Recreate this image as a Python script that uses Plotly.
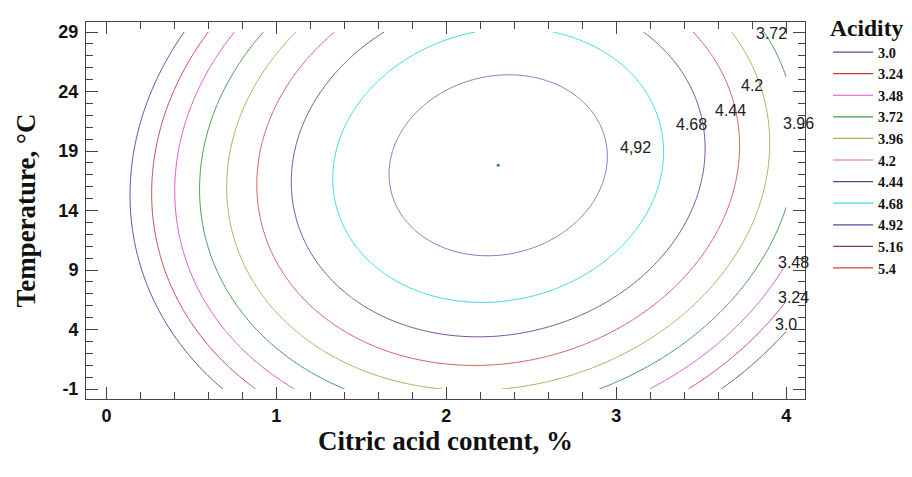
import numpy as np
import plotly.graph_objects as go

# ---------------- data ----------------
levels = [3.0, 3.24, 3.48, 3.72, 3.96, 4.2, 4.44, 4.68, 4.92, 5.16, 5.4]
level_names = ["3.0", "3.24", "3.48", "3.72", "3.96", "4.2", "4.44", "4.68", "4.92", "5.16", "5.4"]

# fitted response surface (second-order model)
z_max = 5.105          # acidity at optimum
x_opt = 2.305          # citric acid content at optimum, %
y_opt = 17.8           # temperature at optimum, °C
coef_xx = 0.453        # curvature in citric acid
coef_yy = 0.00323      # curvature in temperature
coef_xy = -0.00743     # interaction term

x_span = [0.0, 4.0]
y_span = [-1.0, 29.0]

x_ticks = [0, 1, 2, 3, 4]
y_ticks = [-1, 4, 9, 14, 19, 24, 29]

# contour labels as printed on the chart
label_texts = ["3.72", "4.2", "4.44", "4.68", "4,92", "3.96", "3.48", "3.24", "3.0"]

# ---------------- styles / positions ----------------
level_colors = ["#4b4fa8", "#c84848", "#d456d4", "#3f9a48", "#a9b15a", "#d45c5c",
                "#7d4a9e", "#3fd8dc", "#7c7cc0", "#7a4444", "#d84040"]
legend_colors = ["#4b4fa8", "#c83a3a", "#d456d4", "#3f9a48", "#a9b15a", "#d47070",
                 "#6a3a8a", "#3fd8dc", "#4a50a0", "#7a4444", "#d84040"]
label_pos = [(3.91, 28.9), (3.80, 24.5), (3.67, 22.4), (3.44, 21.2), (3.11, 19.3),
             (4.07, 21.3), (4.04, 9.6), (4.04, 6.7), (4.00, 4.4)]

serif = "Liberation Serif, Times New Roman, serif"
sans = "Liberation Sans, Arial, sans-serif"

# ---------------- grid ----------------
xs = np.linspace(x_span[0], x_span[1], 241)
ys = np.linspace(y_span[0], y_span[1], 241)
X, Y = np.meshgrid(xs, ys)
U = X - x_opt
V = Y - y_opt
Z = z_max - coef_xx * U**2 - coef_yy * V**2 - coef_xy * U * V

fig = go.Figure()

for lev, col in zip(levels, level_colors):
    fig.add_trace(go.Contour(
        x=xs, y=ys, z=Z,
        autocontour=False,
        contours=dict(start=lev, end=lev, size=0.24, coloring="none", showlabels=False),
        line=dict(color=col, width=1),
        showscale=False, hoverinfo="skip", showlegend=False,
    ))

for name, col in zip(level_names, legend_colors):
    fig.add_trace(go.Scatter(
        x=[None], y=[None], mode="lines", name=name,
        line=dict(color=col, width=1.2), showlegend=True,
    ))

fig.add_trace(go.Scatter(
    x=[x_opt], y=[y_opt], mode="markers",
    marker=dict(symbol="circle", size=3, color="#2e8b3a"),
    showlegend=False, hoverinfo="skip",
))

for txt, (lx, ly) in zip(label_texts, label_pos):
    fig.add_annotation(x=lx, y=ly, text=txt, showarrow=False,
                       font=dict(family=sans, size=16, color="#222"),
                       xanchor="center", yanchor="middle")

axis_common = dict(
    showline=True, mirror="ticks", linecolor="#444", linewidth=1,
    ticks="inside", ticklen=12, tickcolor="#444", tickwidth=1,
    showgrid=False, zeroline=False,
    tickfont=dict(family=sans, size=18, color="#111", weight="bold"),
)

fig.update_xaxes(
    range=[-0.12, 4.11], tickvals=x_ticks,
    ticktext=[str(v) for v in x_ticks],
    minor=dict(ticks="inside", ticklen=7, tickcolor="#444", dtick=0.2, tick0=0, showgrid=False),
    title=dict(text="Citric acid content, %",
               font=dict(family=serif, size=27, color="#111", weight="bold"), standoff=4),
    **axis_common,
)
fig.update_yaxes(
    range=[-1.84, 29.84], tickvals=y_ticks,
    ticktext=[str(v) for v in y_ticks],
    ticklabelstandoff=3,
    minor=dict(ticks="inside", ticklen=7, tickcolor="#444", dtick=1, tick0=-1, showgrid=False),
    title=dict(text="Temperature, °C",
               font=dict(family=serif, size=27, color="#111", weight="bold"), standoff=14),
    **axis_common,
)

fig.update_layout(
    width=912, height=477,
    margin=dict(l=86, r=107, t=22, b=78, autoexpand=False),
    paper_bgcolor="white", plot_bgcolor="white",
    legend=dict(
        xref="container", yref="container",
        x=0.908, y=0.988, xanchor="left", yanchor="top",
        title=dict(text="Acidity", font=dict(family=serif, size=23.5, color="#111", weight="bold")),
        font=dict(family=serif, size=14.3, color="#111", weight="bold"),
        bgcolor="rgba(0,0,0,0)", borderwidth=0, itemwidth=40, tracegroupgap=0,
        maxheight=470,
    ),
    font=dict(family=sans),
)

fig.write_html("out.html")
